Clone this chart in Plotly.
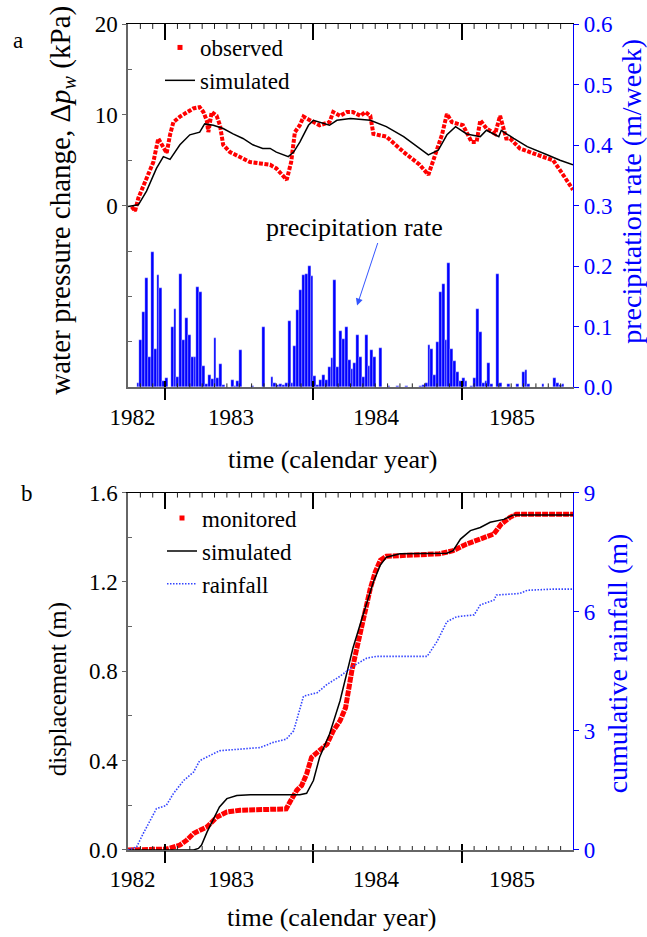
import plotly.graph_objects as go

# ---------------- data (time in months since the left edge of the axes) ----------------
year_labels = ["1982", "1983", "1984", "1985"]
year_label_pos = [0.36, 8.33, 20.06, 31.07]
major_ticks = [3, 15, 27]
month_ticks = list(range(1, 36))

# panel a: water pressure change (kPa)
obs_t = [0.3, 0.57, 0.84, 1.24, 1.64, 2.05, 2.45, 2.86, 3.13, 3.4, 3.67, 4.2, 4.75, 5.28, 5.8,
         6.1, 6.37, 6.5, 6.77, 7.17, 7.44, 7.7, 8.25, 9.06, 9.87, 10.7, 11.5, 12.0, 12.84, 13.2,
         13.5, 13.9, 14.2, 14.6, 15.3, 15.5, 16.3, 16.6, 17.15, 17.7, 18.2, 18.8, 19.2, 19.6,
         19.85, 20.9, 22.3, 23.6, 24.3, 24.8, 25.4, 25.8, 26.2, 27.1, 27.8, 28.2, 28.5, 29.0,
         29.7, 30.1, 30.6, 30.9, 31.7, 33.1, 34.4, 35.2, 36.0]
obs_v = [-0.1, -0.6, 0.85, 2.1, 3.4, 4.8, 7.4, 6.3, 5.8, 7.8, 9.2, 9.8, 10.3, 10.7, 10.85,
         10.3, 9.4, 8.1, 10.3, 9.9, 8.85, 6.7, 5.9, 5.4, 4.8, 4.65, 4.5, 4.1, 2.85, 4.8,
         8.1, 8.85, 9.8, 9.5, 9.0, 8.85, 9.2, 10.3, 9.9, 10.3, 10.3, 9.9, 10.3, 9.9,
         7.9, 7.6, 5.9, 4.5, 3.4, 5.4, 7.8, 10.1, 9.2, 8.85, 7.0, 7.0, 9.4, 8.5,
         7.9, 9.9, 7.4, 7.4, 6.3, 5.6, 5.0, 3.4, 1.75]

sim_t = [0.0, 0.84, 1.5, 2.3, 2.86, 3.4, 4.2, 5.0, 5.8, 6.2, 6.9, 7.7, 8.5, 9.3, 10.1, 10.9,
         11.5, 12.0, 12.97, 13.4, 13.9, 14.6, 15.0, 15.5, 16.3, 16.9, 18.0, 19.6, 20.9, 22.3,
         23.6, 24.3, 25.1, 25.8, 26.5, 27.4, 28.5, 29.0, 30.0, 30.2, 31.2, 32.3, 33.9, 34.95, 36.0]
sim_v = [-0.1, 0.1, 1.6, 4.1, 5.4, 5.1, 6.7, 7.8, 8.1, 9.0, 8.85, 8.5, 7.9, 7.4, 6.7, 6.3,
         6.3, 5.9, 5.4, 5.9, 7.0, 8.85, 9.4, 9.2, 8.85, 9.4, 9.6, 9.4, 8.7, 7.6,
         6.3, 5.6, 6.1, 7.8, 8.7, 7.9, 7.6, 8.3, 7.6, 8.3, 7.4, 6.5, 5.6, 5.0, 4.5]

# weekly precipitation rate (m/week), 156 weeks
precip_rate = [
    0, 0, 0, 0.007, 0.079, 0.124, 0.181, 0.05, 0.223, 0.064,
    0.185, 0.164, 0.01, 0.016, 0.0, 0.10, 0.13, 0.017, 0.188, 0.079,
    0.115, 0.086, 0.05, 0.05, 0.165, 0.157, 0.035, 0.006, 0.02, 0.014,
    0.082, 0.015, 0.038, 0.004, 0, 0, 0.012, 0.002, 0.01, 0.061,
    0, 0, 0, 0.003, 0, 0, 0, 0.10, 0, 0,
    0.017, 0.008, 0.004, 0.006, 0.004, 0.008, 0.11, 0.008, 0.068, 0.127,
    0.161, 0.185, 0.187, 0.20, 0.184, 0.019, 0.004, 0.012, 0.02, 0.012,
    0.034, 0.048, 0.177, 0.034, 0.093, 0.08, 0.10, 0.045, 0.03, 0.041,
    0.087, 0.05, 0.017, 0.087, 0.035, 0.062, 0.05, 0, 0.065, 0,
    0, 0.003, 0, 0, 0.003, 0, 0, 0.002, 0, 0,
    0, 0, 0.003, 0.004, 0.008, 0.07, 0.063, 0.021, 0.075, 0.158,
    0.17, 0.078, 0.206, 0.063, 0.043, 0.025, 0.01, 0.016, 0.01, 0,
    0.003, 0.015, 0.13, 0.092, 0.007, 0.01, 0.04, 0.005, 0, 0.188,
    0.008, 0, 0, 0.005, 0, 0, 0.006, 0, 0.025, 0.028,
    0.006, 0, 0, 0, 0, 0.005, 0, 0, 0, 0.015,
    0.007, 0.004, 0.006, 0, 0, 0]

# panel b: displacement (m) and cumulative rainfall (m)
mon_t = [0, 3.1, 4.2, 4.75, 5.3, 5.8, 6.4, 7.2, 8.0, 9.06, 11.2, 12.8, 13.1, 13.65, 14.05, 14.45,
         14.85, 15.5, 16.1, 16.6, 17.15, 17.6, 17.8, 18.1, 18.5, 18.8, 19.3, 19.6, 20.0, 20.4,
         20.9, 22.5, 25.2, 26.3, 27.4, 28.5, 29.6, 30.2, 30.9, 31.4, 36.0]
mon_v = [0, 0.004, 0.022, 0.044, 0.074, 0.089, 0.104, 0.148, 0.17, 0.178, 0.181, 0.184, 0.215,
         0.267, 0.289, 0.34, 0.415, 0.444, 0.474, 0.533, 0.578, 0.637, 0.711, 0.80, 0.90, 0.978,
         1.096, 1.17, 1.244, 1.296, 1.315, 1.321, 1.326, 1.34, 1.37, 1.392, 1.415, 1.459, 1.489,
         1.503, 1.503]

dsim_t = [0, 5.3, 5.7, 5.95, 6.4, 6.9, 7.4, 8.0, 8.8, 9.9, 13.9, 14.45, 15.0, 15.5, 16.3, 17.15,
          17.8, 18.2, 19.0, 19.85, 20.4, 20.9, 22.0, 25.8, 26.3, 26.9, 27.7, 28.5, 29.3, 30.4,
          31.2, 36.0]
dsim_v = [0, 0, 0.007, 0.022, 0.081, 0.14, 0.193, 0.23, 0.244, 0.247, 0.247, 0.254, 0.311, 0.415,
          0.518, 0.667, 0.815, 0.904, 1.05, 1.2, 1.274, 1.311, 1.326, 1.329, 1.34, 1.392, 1.43,
          1.444, 1.467, 1.48, 1.5, 1.5]

rain_t = [0, 0.7, 1.24, 1.8, 2.3, 3.1, 3.67, 4.5, 5.3, 5.8, 6.6, 7.4, 9.06, 10.7, 11.75, 12.8,
          13.4, 13.9, 14.2, 15.3, 16.1, 17.15, 18.2, 19.3, 20.1, 24.2, 25.0, 25.8, 26.6, 28.0,
          28.5, 29.6, 29.8, 31.7, 32.3, 34.4, 36.0]
rain_v = [0, 0.08, 0.42, 0.75, 1.04, 1.125, 1.42, 1.75, 1.96, 2.25, 2.375, 2.5, 2.54, 2.58, 2.71,
          2.79, 3.0, 3.58, 3.875, 3.96, 4.17, 4.375, 4.625, 4.83, 4.875, 4.875, 5.25, 5.75, 5.875,
          5.92, 6.17, 6.29, 6.42, 6.46, 6.54, 6.57, 6.57]

# ---------------- figure ----------------
FONT = "Liberation Serif, Times New Roman, serif"
BLUE = "#0000ff"
GRAY = "#666666"
W, H = 647, 937
ML, MR, MT, MB = 128, 74, 18, 87
PW, PH = W - ML - MR, H - MT - MB


def px(xp):
    return (xp - ML) / PW


def py(yp):
    return (H - MB - yp) / PH


week_len = 12 / 52
week_mid = [(i + 0.5) * week_len for i in range(len(precip_rate))]

fig = go.Figure()

# panel a
fig.add_trace(go.Bar(x=week_mid, y=precip_rate, width=week_len, xaxis="x", yaxis="y2",
                     marker=dict(color=BLUE, line=dict(color="white", width=0.3)),
                     showlegend=False, name="precipitation rate"))
fig.add_trace(go.Scatter(x=obs_t, y=obs_v, mode="lines", xaxis="x", yaxis="y",
                         line=dict(color="red", width=4, dash="4px,1.5px"),
                         showlegend=False, name="observed"))
fig.add_trace(go.Scatter(x=[None], y=[None], mode="markers", xaxis="x", yaxis="y",
                         marker=dict(symbol="square", size=5, color="red"),
                         name="observed", legend="legend"))
fig.add_trace(go.Scatter(x=sim_t, y=sim_v, mode="lines", xaxis="x", yaxis="y",
                         line=dict(color="black", width=1.5), name="simulated", legend="legend"))

# panel b
fig.add_trace(go.Scatter(x=mon_t, y=mon_v, mode="lines", xaxis="x2", yaxis="y3",
                         line=dict(color="red", width=5, dash="6px,1px"),
                         showlegend=False, name="monitored"))
fig.add_trace(go.Scatter(x=[None], y=[None], mode="markers", xaxis="x2", yaxis="y3",
                         marker=dict(symbol="square", size=5, color="red"),
                         name="monitored", legend="legend2"))
fig.add_trace(go.Scatter(x=dsim_t, y=dsim_v, mode="lines", xaxis="x2", yaxis="y3",
                         line=dict(color="black", width=1.5), name="simulated", legend="legend2"))
fig.add_trace(go.Scatter(x=rain_t, y=rain_v, mode="lines", xaxis="x2", yaxis="y4",
                         line=dict(color="#3344ff", width=1.6, dash="1.5px,1.5px"),
                         name="rainfall", legend="legend2"))

# tick-only overlay axes for the major (January) ticks:
# (axis id, overlays, anchor, side, direction, ticklen, show axis line)
tick_axes = [
    ("x3", "x", "y", "bottom", "outside", 12, False),
    ("x4", "x", "y", "bottom", "inside", 6, False),
    ("x5", "x", "y", "top", "inside", 16, True),
    ("x6", "x2", "y3", "bottom", "outside", 12, False),
    ("x7", "x2", "y3", "bottom", "inside", 6, False),
    ("x8", "x2", "y3", "top", "inside", 16, True),
]

# empty helper traces so that the tick-only overlay axes get drawn
for ax_id, over, anchor, *_ in tick_axes:
    fig.add_trace(go.Scatter(x=[None], y=[None], xaxis=ax_id, yaxis=anchor, mode="lines",
                             showlegend=False, hoverinfo="skip"))

top_dom = [py(384), py(MT)]
bot_dom = [0, py(490)]


def label_axis(anchor):
    return dict(anchor=anchor, domain=[0, 1], range=[0, 36], tickmode="array",
                tickvals=year_label_pos, ticktext=year_labels, ticks="", showline=True,
                linecolor=GRAY, linewidth=1.5, showgrid=False, zeroline=False,
                ticklabelstandoff=8, tickfont=dict(size=23))


layout_axes = {}
for ax_id, over, anchor, side, direction, tlen, line in tick_axes:
    layout_axes["xaxis" + ax_id[1:]] = dict(
        overlaying=over, anchor=anchor, side=side, range=[0, 36], tickmode="array",
        tickvals=major_ticks, ticks=direction, ticklen=tlen, tickwidth=2, tickcolor="black",
        showticklabels=False, showgrid=False, zeroline=False, showline=line,
        linecolor="black", linewidth=1.2)

# monthly minor ticks (inside) along the bottom and top edges of both panels
minor_shapes = []
for xref, yref, plot_h in [("x", "y domain", 384 - MT), ("x2", "y3 domain", H - MB - 490)]:
    for m in month_ticks:
        if m in major_ticks:
            continue
        minor_shapes.append(dict(type="line", xref=xref, yref=yref, x0=m, x1=m,
                                 y0=0, y1=4 / plot_h, line=dict(color="#222222", width=1)))
        minor_shapes.append(dict(type="line", xref=xref, yref=yref, x0=m, x1=m,
                                 y0=1, y1=1 - 5 / plot_h, line=dict(color="#222222", width=1)))

fig.update_layout(
    width=W, height=H, margin=dict(l=ML, r=MR, t=MT, b=MB),
    paper_bgcolor="white", plot_bgcolor="white",
    font=dict(family=FONT, size=23, color="black"),
    bargap=0,
    shapes=minor_shapes,
    xaxis=label_axis("y"),
    xaxis2=label_axis("y3"),
    yaxis=dict(domain=top_dom, anchor="x", range=[-20, 20], tickmode="array",
               tickvals=[0, 10, 20], ticks="outside", ticklen=4, tickcolor=GRAY,
               showline=True, linecolor=GRAY, linewidth=1.5, showgrid=False, zeroline=False,
               minor=dict(tickmode="array", tickvals=[-15, -10, -5, 5, 15], ticks="inside",
                          ticklen=4, tickcolor=GRAY)),
    yaxis2=dict(overlaying="y", anchor="x", side="right", range=[0, 0.6], tickmode="array",
                tickvals=[0, 0.1, 0.2, 0.3, 0.4, 0.5, 0.6], tickformat=".1f",
                ticks="outside", ticklen=5, tickcolor=BLUE, showline=True, linecolor=BLUE,
                linewidth=1.2, tickfont=dict(color=BLUE), showgrid=False, zeroline=False),
    yaxis3=dict(domain=bot_dom, anchor="x2", range=[0, 1.6], tickmode="array",
                tickvals=[0, 0.4, 0.8, 1.2, 1.6], tickformat=".1f", ticks="outside", ticklen=4,
                tickcolor=GRAY, showline=True, linecolor=GRAY, linewidth=1.5, showgrid=False,
                zeroline=False,
                minor=dict(tickmode="array", tickvals=[0.2, 0.6, 1.0, 1.4], ticks="inside",
                           ticklen=4, tickcolor=GRAY)),
    yaxis4=dict(overlaying="y3", anchor="x2", side="right", range=[0, 9], tickmode="array",
                tickvals=[0, 3, 6, 9], ticks="outside", ticklen=5, tickcolor=BLUE,
                showline=True, linecolor=BLUE, linewidth=1.2, tickfont=dict(color=BLUE),
                showgrid=False, zeroline=False),
    legend=dict(x=px(160), y=py(20), xanchor="left", yanchor="top", bgcolor="rgba(0,0,0,0)",
                font=dict(size=23), tracegroupgap=0, itemwidth=30),
    legend2=dict(x=px(162), y=py(494), xanchor="left", yanchor="top", bgcolor="rgba(0,0,0,0)",
                 font=dict(size=23), tracegroupgap=0, itemwidth=30),
    **layout_axes,
)

ann = [
    dict(text="a", x=px(18), y=py(35), size=23, color="black", angle=0),
    dict(text="b", x=px(27), y=py(491), size=23, color="black", angle=0),
    dict(text="water pressure change, Δ<i>p</i><sub><i>w</i></sub> (kPa)", x=px(62), y=py(196),
         size=29, color="black", angle=-90),
    dict(text="precipitation rate (m/week)", x=px(632), y=py(187), size=28, color=BLUE, angle=-90),
    dict(text="time (calendar year)", x=px(332), y=py(457), size=26, color="black", angle=0),
    dict(text="displacement (m)", x=px(58), y=py(688), size=25, color="black", angle=-90),
    dict(text="cumulative rainfall (m)", x=px(617), y=py(662), size=28, color=BLUE, angle=-90),
    dict(text="time (calendar year)", x=px(331), y=py(918), size=26, color="black", angle=0),
]
for a in ann:
    fig.add_annotation(text=a["text"], x=a["x"], y=a["y"], xref="paper", yref="paper",
                       xanchor="center", yanchor="middle", showarrow=False,
                       textangle=a["angle"], font=dict(size=a["size"], color=a["color"]))

# "precipitation rate" label with its pointer in panel a (trailing spaces shift the arrow start)
fig.add_annotation(text="precipitation rate" + "\u00a0" * 9, x=18.53, y=-11.0,
                   ax=20.63, ay=-2.35, xref="x", yref="y", axref="x", ayref="y",
                   showarrow=True, arrowhead=2, arrowsize=1.4, arrowwidth=1,
                   arrowcolor="#3355ff", font=dict(size=26, color="black"))

fig.write_html("out.html")
